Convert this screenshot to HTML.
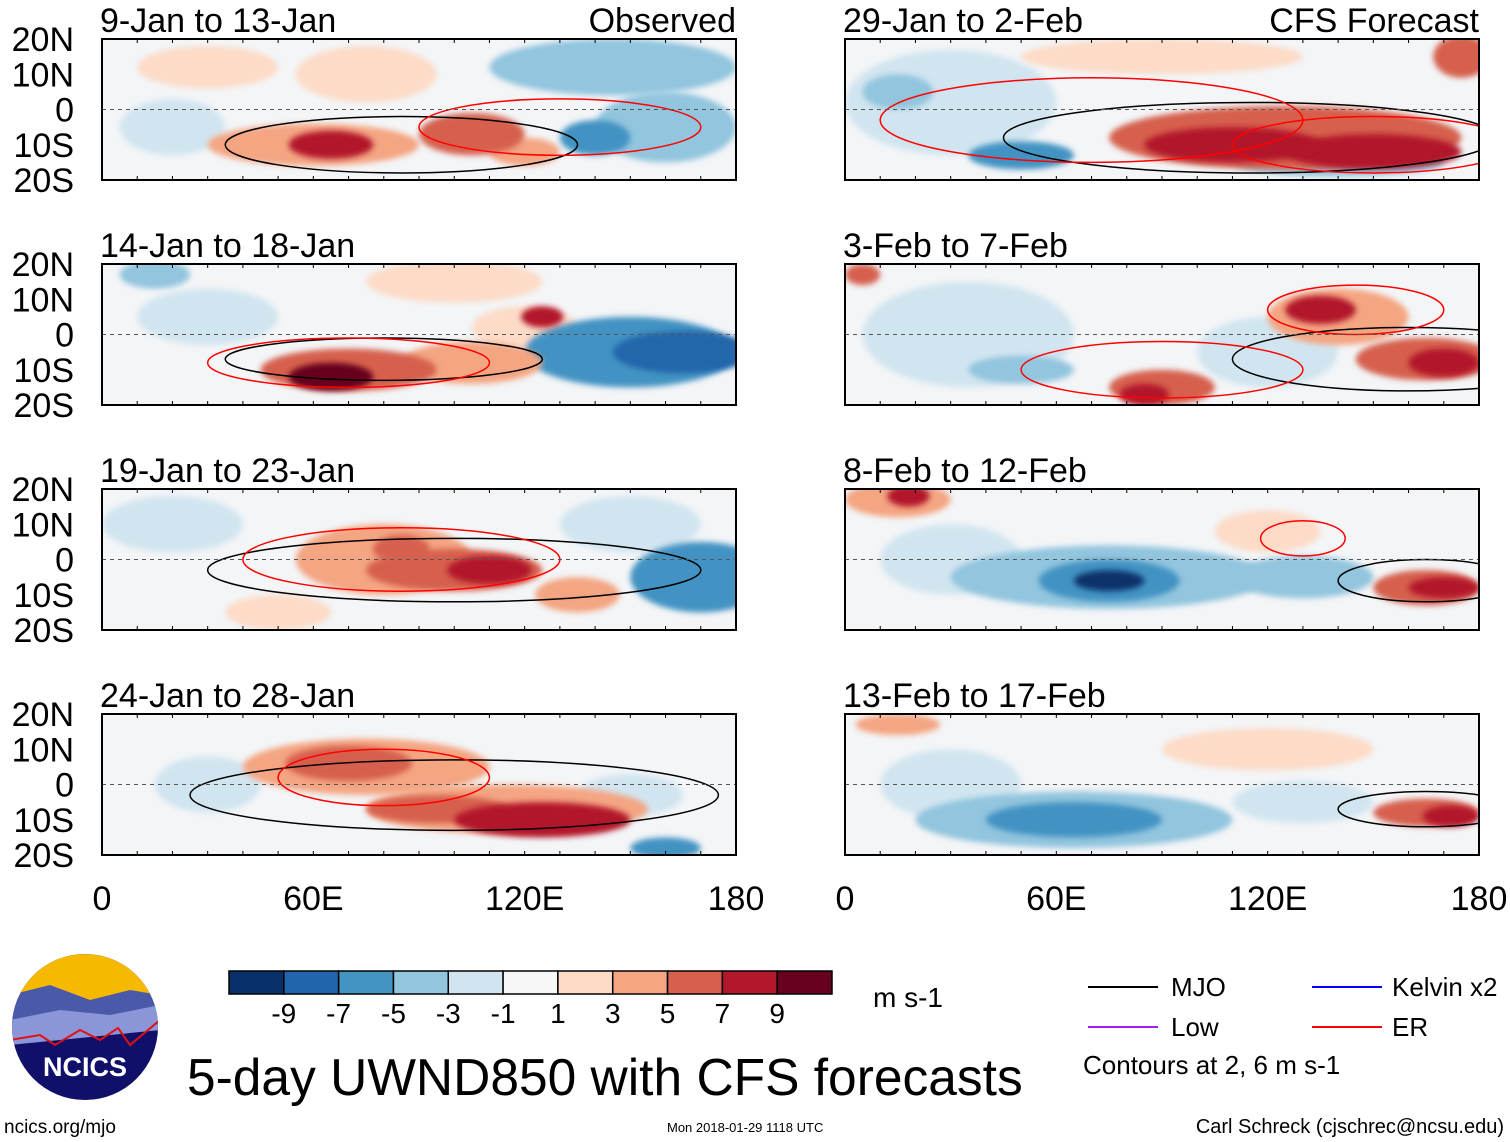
<!DOCTYPE html>
<html><head><meta charset="utf-8"><style>
body{margin:0;background:#fff;width:1510px;height:1142px;overflow:hidden}
svg{display:block;font-family:"Liberation Sans",sans-serif}
</style></head><body>
<svg id="s" width="1510" height="1142" viewBox="0 0 1510 1142">
<defs>
<filter id="blur" x="-20%" y="-40%" width="140%" height="180%"><feGaussianBlur stdDeviation="3"/></filter>
<clipPath id="lg"><circle cx="85" cy="1027" r="73"/></clipPath>
</defs>
<g id="panels"></g>
<g id="cbar"></g>
<text x="873" y="1007" font-size="28">m s-1</text>
<g>
<g clip-path="url(#lg)">
<rect x="10" y="950" width="150" height="160" fill="#10106a"/>
<rect x="10" y="950" width="150" height="50" fill="#f7b800"/>
<path d="M10 995 L50 985 L90 1000 L130 990 L160 995 L160 1030 L10 1040Z" fill="#4a5aa8"/>
<path d="M10 1020 L60 1010 L110 1015 L160 1005 L160 1030 L10 1045Z" fill="#8a96d8"/>
<path d="M10 1040 L40 1035 L55 1045 L80 1030 L100 1040 L118 1028 L130 1045 L160 1020" fill="none" stroke="#e01010" stroke-width="2"/>
</g>
<text x="85" y="1076" font-size="27" font-weight="bold" fill="#fff" text-anchor="middle">NCICS</text>
</g>
<text x="4" y="1133" font-size="19">ncics.org/mjo</text>
<text x="187" y="1095" font-size="51.5">5-day UWND850 with CFS forecasts</text>
<text x="667" y="1132" font-size="13">Mon 2018-01-29 1118 UTC</text>
<text x="1504" y="1133" font-size="20" text-anchor="end">Carl Schreck (cjschrec@ncsu.edu)</text>
<g font-size="26">
<line x1="1088" y1="987" x2="1158" y2="987" stroke="#000" stroke-width="2"/><text x="1171" y="996">MJO</text>
<line x1="1312" y1="987" x2="1382" y2="987" stroke="#0000ff" stroke-width="2"/><text x="1392" y="996">Kelvin x2</text>
<line x1="1088" y1="1027" x2="1158" y2="1027" stroke="#a020f0" stroke-width="2"/><text x="1171" y="1036">Low</text>
<line x1="1312" y1="1027" x2="1382" y2="1027" stroke="#ff0000" stroke-width="2"/><text x="1392" y="1036">ER</text>
<text x="1083" y="1074">Contours at 2, 6 m s-1</text>
</g>
</svg>
<script>
const NS="http://www.w3.org/2000/svg";
const levels=[-9,-7,-5,-3,-1,1,3,5,7,9];
const colors=["#08306b","#2166ac","#4393c3","#92c5de","#d1e5f0","#f7f7f7","#fddbc7","#f4a582","#d6604d","#b2182b","#67001f"];
const titles=["9-Jan to 13-Jan","14-Jan to 18-Jan","19-Jan to 23-Jan","24-Jan to 28-Jan","29-Jan to 2-Feb","3-Feb to 7-Feb","8-Feb to 12-Feb","13-Feb to 17-Feb"];
const latTicks=["20N","10N","0","10S","20S"];
const lonTicks=["0","60E","120E","180"];
// blobs per panel: [lon, lat, halfWidthLon, halfHeightLat, value]
const blobs0=[[30,12,20,6,2],[75,10,20,8,3],[145,12,35,8,-3],[160,-5,20,10,-3],[60,-10,30,6,5],[65,-10,12,4,8],[105,-7,15,6,7],[120,-12,10,4,5],[140,-8,10,5,-5],[20,-5,15,8,-2]];
const blobs1=[[150,-5,30,10,-5],[165,-5,20,6,-8],[100,15,25,6,2],[70,-10,25,6,6],[65,-12,12,4,10],[105,-8,20,6,5],[120,2,15,6,3],[125,5,6,3,8],[30,5,20,8,-2],[15,17,10,4,-3]];
const blobs2=[[170,-5,20,10,-5],[80,0,25,10,4],[85,3,8,4,7],[100,-3,25,6,6],[110,-3,12,4,8],[135,-10,12,5,5],[50,-15,15,5,3],[20,10,20,8,-2],[150,10,20,8,-2]];
const blobs3=[[75,5,35,8,4],[70,6,18,5,7],[115,-7,40,7,5],[125,-10,25,5,8],[95,-7,20,4,6],[160,-18,10,3,-5],[150,-3,15,6,-2],[30,0,15,8,-2]];
const blobs4=[[30,2,30,15,-2],[50,-13,15,4,-5],[125,-8,50,9,6],[110,-10,25,5,9],[150,-12,25,5,8],[175,15,8,6,6],[90,15,40,5,2],[140,-15,30,4,-3],[15,5,10,5,-4]];
const blobs5=[[35,0,30,15,-2],[50,-10,15,4,-4],[140,5,20,8,5],[135,7,10,4,8],[165,-7,20,6,7],[170,-8,10,4,9],[90,-15,15,5,6],[85,-17,7,3,9],[120,-5,20,10,-2],[5,17,5,3,6]];
const blobs6=[[75,-5,45,9,-3],[75,-6,20,6,-5],[75,-6,10,3,-9],[130,-5,20,6,-3],[165,-8,15,5,6],[170,-8,10,3,8],[15,17,15,5,5],[18,18,6,3,8],[120,8,15,6,2],[30,0,20,10,-1.5]];
const blobs7=[[65,-10,45,8,-3],[65,-10,25,5,-5],[130,-5,20,6,-2],[165,-8,15,4,6],[172,-9,8,3,8],[15,17,12,3,5],[120,10,30,6,1.5],[30,0,20,10,-1.5]];
const allBlobs=[blobs0,blobs1,blobs2,blobs3,blobs4,blobs5,blobs6,blobs7];
const mjo=[[[85,-10,50,8]],[[80,-7,45,6]],[[100,-3,70,9]],[[100,-3,75,10]],[[115,-8,70,10]],[[160,-7,50,9]],[[165,-6,25,6]],[[165,-7,25,5]]];
const er=[[[130,-5,40,8]],[[70,-8,40,7]],[[85,0,45,9]],[[80,2,30,8]],[[70,-3,60,12],[150,-10,40,8]],[[90,-10,40,8],[145,7,25,7]],[[130,6,12,5]],[[]]];
const PX=[102,845], PY=[39,264,489,714], PW=634, PH=141;
function col(v){let i=0;while(i<levels.length&&v>levels[i])i++;return colors[i];}
const g=document.getElementById('panels');
function el(t,a,p){const e=document.createElementNS(NS,t);for(const k in a)e.setAttribute(k,a[k]);(p||g).appendChild(e);return e;}
for(let p=0;p<8;p++){
  const x0=PX[p<4?0:1], y0=PY[p%4];
  const xs=lon=>x0+lon/180*PW, ys=lat=>y0+(20-lat)/40*PH;
  const pg=el('g',{});
  
  
  const cp=el('clipPath',{id:'c'+p},pg);
  el('rect',{x:x0,y:y0,width:PW,height:PH},cp);
  el('rect',{x:x0,y:y0,width:PW,height:PH,fill:'#f3f5f7'},pg);
  const fg=el('g',{'clip-path':'url(#c'+p+')'},pg);
  const bl=allBlobs[p].slice().sort((a,b)=>Math.abs(a[4])-Math.abs(b[4]));
  bl.forEach(b=>{
    const e=el('ellipse',{cx:xs(b[0]),cy:ys(b[1]),rx:b[2]/180*PW,ry:b[3]/40*PH,fill:col(b[4]),filter:'url(#blur)'},fg);
    
    
  });
  mjo[p].forEach(c=>{if(c.length){const e=el('ellipse',{cx:xs(c[0]),cy:ys(c[1]),rx:c[2]/180*PW,ry:c[3]/40*PH,fill:'none',stroke:'#000','stroke-width':1.5},fg);
    }});
  er[p].forEach(c=>{if(c.length){const e=el('ellipse',{cx:xs(c[0]),cy:ys(c[1]),rx:c[2]/180*PW,ry:c[3]/40*PH,fill:'none',stroke:'#f00','stroke-width':1.5},fg);
    }});
  el('line',{x1:x0,x2:x0+PW,y1:ys(0),y2:ys(0),stroke:'#555','stroke-dasharray':'4 4','stroke-width':1},pg);
  el('rect',{x:x0,y:y0,width:PW,height:PH,fill:'none',stroke:'#000','stroke-width':2},pg);
  for(let i=0;i<=18;i++){const x=x0+i/18*PW;el('line',{x1:x,x2:x,y1:y0,y2:y0+4,stroke:'#000'},pg);el('line',{x1:x,x2:x,y1:y0+PH,y2:y0+PH-4,stroke:'#000'},pg);}
  const t=el('text',{x:x0-2,y:y0-7,'font-size':34},pg);t.textContent=titles[p];
  
  if(p==0||p==4){const r=el('text',{x:x0+PW,y:y0-7,'font-size':34,'text-anchor':'end'},pg);r.textContent=p==0?'Observed':'CFS Forecast';
    }
  if(p<4){latTicks.forEach((l,i)=>{const tt=el('text',{x:74,y:y0+i*PH/4+12,'font-size':34,'text-anchor':'end'},pg);tt.textContent=l;
    });}
  if(p%4==3){lonTicks.forEach((l,i)=>{const tt=el('text',{x:x0+i*PW/3,y:910,'font-size':34,'text-anchor':'middle'},pg);tt.textContent=l;
    });}
}
const cb=document.getElementById('cbar');
const bw=(832-229)/colors.length;
colors.forEach((c,i)=>{const r=el('rect',{x:229+i*bw,y:971,width:bw,height:23,fill:c,stroke:'#000','stroke-width':1.5},cb);
  });
levels.forEach((l,i)=>{const t=el('text',{x:229+(i+1)*bw,y:1023,'font-size':28,'text-anchor':'middle'},cb);t.textContent=l;
  });
</script>
</body></html>
